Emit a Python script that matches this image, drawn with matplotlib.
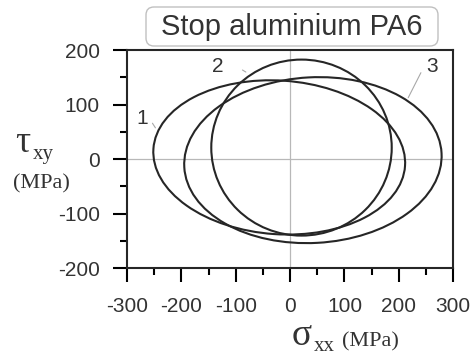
import numpy as np
import matplotlib
matplotlib.use('Agg')
import matplotlib.pyplot as plt
from matplotlib.patches import Ellipse, FancyBboxPatch
from matplotlib.transforms import IdentityTransform

# ellipse parameters (MPa)
curve_ids = ['1', '2', '3']
centre_x = [-20, 21, 42]
centre_y = [3, 21, -2]
width = [464, 332, 474]
height = [282, 323, 304]
angle = [-3.9, 0.0, 3.1]

# curve labels and leader lines
label_xy = [(-272, 75), (-134, 169), (261, 169)]
leader_from = [(-256, 70), (-92, 166), (243, 163)]
leader_to = [(-245, 53), (-77, 157), (215, 108)]

xticks = [-300, -200, -100, 0, 100, 200, 300]
yticks = [-200, -100, 0, 100, 200]

plt.rcParams['font.family'] = ['Liberation Sans', 'DejaVu Sans']

fig = plt.figure(figsize=(4.74, 3.55), dpi=100)
ax = fig.add_axes([0.268, 0.245, 0.688, 0.614])

ax.axhline(0, color='#b8b8b8', lw=0.9, zorder=0)
ax.axvline(0, color='#b8b8b8', lw=0.9, zorder=0)

for i in range(len(curve_ids)):
    e = Ellipse((centre_x[i], centre_y[i]), width[i], height[i], angle=angle[i],
                fill=False, edgecolor='#262626', lw=1.5)
    ax.add_patch(e)
    ax.annotate('', xy=leader_to[i], xytext=leader_from[i],
                arrowprops=dict(arrowstyle='-', color='#a8a8a8', lw=0.8))
    ax.text(label_xy[i][0], label_xy[i][1], curve_ids[i], fontsize=15,
            color='#333333', ha='center', va='center')

ax.set_xlim(-300, 300)
ax.set_ylim(-200, 200)
ax.set_xticks(xticks)
ax.set_yticks(yticks)
ax.set_xticklabels([str(v) for v in xticks])
ax.set_yticklabels([str(v) for v in yticks])
ax.set_xticks(np.arange(-250, 300, 100), minor=True)
ax.set_yticks(np.arange(-150, 200, 100), minor=True)
ax.tick_params(which='major', direction='out', length=10, width=1.5,
               labelsize=15, labelcolor='#333333', pad=9.5)
ax.tick_params(which='minor', direction='out', length=5, width=1.5)
ax.tick_params(axis='x', which='major', pad=11)
for s in ax.spines.values():
    s.set_linewidth(1.5)
    s.set_color('#262626')

# axis labels, serif like the original
serif = 'Liberation Serif'
fig.text(15 / 474, 1 - 152 / 355, 'τ', fontsize=27, family=serif,
         color='#333333', ha='left', va='baseline')
fig.text(33 / 474, 1 - 159 / 355, 'xy', fontsize=15, family=serif,
         color='#333333', ha='left', va='baseline')
fig.text(13 / 474, 1 - 188 / 355, '(MPa)', fontsize=16, family=serif,
         color='#333333', ha='left', va='baseline')
fig.text(292 / 474, 1 - 345 / 355, 'σ', fontsize=27, family=serif,
         color='#333333', ha='left', va='baseline')
fig.text(314 / 474, 1 - 351 / 355, 'xx', fontsize=15, family=serif,
         color='#333333', ha='left', va='baseline')
fig.text(342 / 474, 1 - 346 / 355, '(MPa)', fontsize=16, family=serif,
         color='#333333', ha='left', va='baseline')

# title box
box = FancyBboxPatch((146, 355 - 46), 292, 39,
                     boxstyle='round,pad=0,rounding_size=8',
                     transform=IdentityTransform(), fc='white',
                     ec='#c0c0c0', lw=1.0)
fig.patches.append(box)
fig.text(292 / 474, 1 - 27 / 355, 'Stop aluminium PA6', fontsize=21,
         color='#333333', ha='center', va='center')

fig.savefig('out.png', dpi=100)
